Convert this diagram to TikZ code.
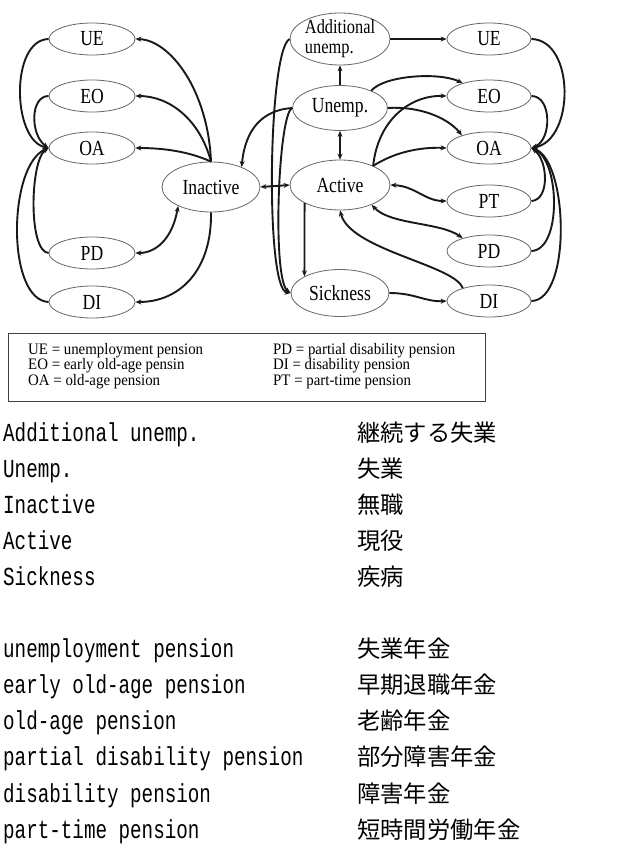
\documentclass[tikz,border=0pt]{standalone}
\usepackage{fontspec}
\setmainfont{Liberation Serif}
\newfontfamily\nodefnt[FakeStretch=0.82]{Liberation Serif}
\newfontfamily\legfnt[FakeStretch=0.93]{Liberation Serif}
\newfontfamily\mymono[FakeStretch=0.74]{Liberation Mono}
\newfontfamily\jpfnt{Noto Sans CJK JP}
\usetikzlibrary{shapes.geometric,arrows.meta}
\tikzset{
  st/.style={ellipse, draw=black!60, line width=0.8pt, inner sep=0pt, align=center,
             font=\nodefnt\fontsize{21.5}{21.5}\selectfont},
  sm/.style={st, minimum width=86pt, minimum height=32pt},
  big/.style={st, minimum width=98pt, minimum height=48pt},
  con/.style={line width=1.9pt, draw=black!90},
  arr/.style={con, -{Stealth[length=6pt,width=5pt]}},
  darr/.style={con, {Stealth[length=6pt,width=5pt]}-{Stealth[length=6pt,width=5pt]}},
  leg/.style={anchor=base west, inner sep=0pt, font=\legfnt\fontsize{16}{16}\selectfont},
  mono/.style={anchor=base west, inner sep=0pt, font=\mymono\fontsize{26}{26}\selectfont},
  jp/.style={anchor=base west, inner sep=0pt, font=\jpfnt\fontsize{23.3}{23.3}\selectfont},
}
\begin{document}
\begin{tikzpicture}[x=1pt,y=-1pt]
\useasboundingbox (0,0) rectangle (620,845);

% left pension nodes
\node[sm] (lUE) at (92,39) {UE};
\node[sm] (lEO) at (92,96) {EO};
\node[sm] (lOA) at (92,148) {OA};
\node[sm] (lPD) at (92,253) {PD};
\node[sm] (lDI) at (92,302) {DI};
% centre nodes
\node[big, minimum height=50pt] (Inact) at (211,187) {Inactive};
\node[big, minimum width=100pt, minimum height=52pt, inner xsep=-5pt, inner ysep=-6pt, align=left,
      font=\nodefnt\fontsize{20}{20}\selectfont] (AddU) at (340,39) {Additional\\unemp.};
\node[big, minimum width=95pt, minimum height=45pt] (Unemp) at (340,108) {Unemp.};
\node[big, minimum width=100pt, minimum height=50pt] (Active) at (340,185) {Active};
\node[big, minimum height=47pt] (Sick) at (340,293) {Sickness};
% right pension nodes
\node[sm, minimum width=84pt] (rUE) at (489,39) {UE};
\node[sm, minimum width=84pt] (rEO) at (489,96) {EO};
\node[sm, minimum width=84pt] (rOA) at (489,148) {OA};
\node[sm, minimum width=84pt] (rPT) at (489,201) {PT};
\node[sm, minimum width=84pt] (rPD) at (489,251) {PD};
\node[sm, minimum width=84pt] (rDI) at (489,301) {DI};

% Inactive -> left pensions
\draw[arr] (Inact.north) .. controls (208,90) and (170,40) .. (lUE.east);
\draw[arr] (Inact.north) .. controls (200,120) and (170,96) .. (lEO.east);
\draw[arr] (Inact.north) .. controls (190,152) and (165,148) .. (lOA.east);
\draw[darr] (Inact.210) .. controls (172,240) and (155,253) .. (lPD.east);
\draw[arr] (Inact.south) .. controls (212,270) and (180,302) .. (lDI.east);
% left loops to OA
\draw[arr] (lUE.west) .. controls (10,40) and (12,140) .. (lOA.west);
\draw[arr] (lEO.west) .. controls (30,96) and (30,135) .. (lOA.west);
\draw[arr] (lPD.west) .. controls (28,252) and (30,160) .. (lOA.west);
\draw[arr] (lDI.west) .. controls (6,300) and (8,165) .. (lOA.west);

% centre
\draw[darr] (Inact.east) -- (Active.west);
\draw[arr] (Unemp.west) .. controls (262,110) and (245,130) .. (Inact.33);
\draw[arr] (AddU.west) .. controls (268,50) and (265,290) .. (Sick.west);
\draw[arr] (Unemp.west) .. controls (278,115) and (272,280) .. (Sick.west);
\draw[arr] (Unemp.north) -- (AddU.south);
\draw[darr] (Unemp.south) -- (Active.north);
\draw[arr] (AddU.east) -- (rUE.west);
\draw[arr] (Unemp.29) .. controls (385,75) and (440,72) .. (rEO.154);
\draw[arr] (Unemp.east) .. controls (420,106) and (448,118) .. (rOA.155);
\draw[arr] (Active.30) .. controls (378,120) and (410,95) .. (rEO.west);
\draw[arr] (Active.30) .. controls (395,152) and (420,147) .. (rOA.west);
\draw[darr] (Active.east) .. controls (415,186) and (425,201) .. (rPT.west);
\draw[darr] (Active.328) .. controls (390,225) and (440,222) .. (rPD.154);
\draw[arr] (rDI.154) .. controls (455,265) and (350,250) .. (Active.270);
\draw[arr] (Active.207) -- (Sick.155);
\draw[arr] (Sick.east) .. controls (415,293) and (425,302) .. (rDI.west);

% right loops to OA
\draw[arr] (rUE.east) .. controls (575,40) and (575,140) .. (rOA.east);
\draw[arr] (rEO.east) .. controls (552,96) and (552,140) .. (rOA.east);
\draw[arr] (rPT.east) .. controls (550,200) and (548,160) .. (rOA.east);
\draw[arr] (rPD.east) .. controls (562,250) and (560,160) .. (rOA.east);
\draw[arr] (rDI.east) .. controls (572,300) and (568,160) .. (rOA.east);

% legend
\node[draw=black!75, line width=1.2pt, minimum width=477pt, minimum height=68pt, inner sep=0pt,
      anchor=north west] (legbox) at (8,333) {};
\node[leg] (g1) at (28,354) {UE = unemployment pension};
\node[leg] (g2) at (28,369.5) {EO = early old-age pensin};
\node[leg] (g3) at (28,385) {OA = old-age pension};
\node[leg] (g4) at (273,354) {PD = partial disability pension};
\node[leg] (g5) at (273,369.5) {DI = disability pension};
\node[leg] (g6) at (273,385) {PT = part-time pension};

% glossary
\node[mono] (m1) at (3,441) {Additional unemp.};
\node[mono] (m2) at (3,477.1) {Unemp.};
\node[mono] (m3) at (3,513.2) {Inactive};
\node[mono] (m4) at (3,549.3) {Active};
\node[mono] (m5) at (3,585.4) {Sickness};
\node[mono] (m6) at (3,657.6) {unemployment pension};
\node[mono] (m7) at (3,693.7) {early old-age pension};
\node[mono] (m8) at (3,729.8) {old-age pension};
\node[mono] (m9) at (3,765.9) {partial disability pension};
\node[mono] (m10) at (3,802) {disability pension};
\node[mono] (m11) at (3,838.1) {part-time pension};
\node[jp] (j1) at (357,441) {継続する失業};
\node[jp] (j2) at (357,477.1) {失業};
\node[jp] (j3) at (357,513.2) {無職};
\node[jp] (j4) at (357,549.3) {現役};
\node[jp] (j5) at (357,585.4) {疾病};
\node[jp] (j6) at (357,657.6) {失業年金};
\node[jp] (j7) at (357,693.7) {早期退職年金};
\node[jp] (j8) at (357,729.8) {老齢年金};
\node[jp] (j9) at (357,765.9) {部分障害年金};
\node[jp] (j10) at (357,802) {障害年金};
\node[jp] (j11) at (357,838.1) {短時間労働年金};
\end{tikzpicture}
\end{document}
